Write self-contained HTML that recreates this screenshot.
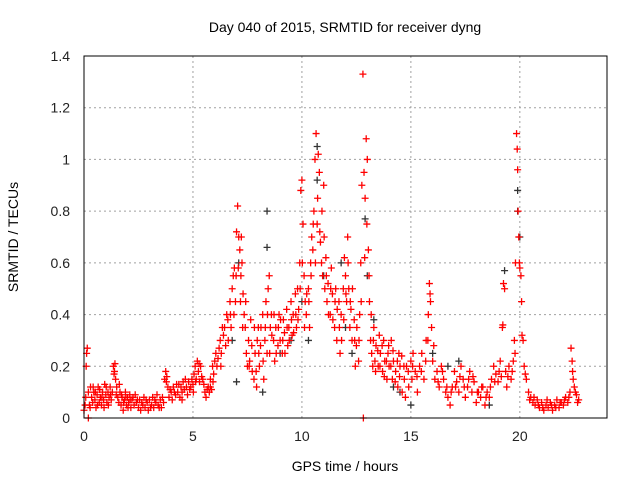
<!DOCTYPE html>
<html><head><meta charset="utf-8"><style>
body{margin:0;background:#fff;}
svg{display:block;font-family:"Liberation Sans",sans-serif;}
</style></head><body>
<svg id="chart" width="640" height="480">
<text x="345" y="32" font-size="14" text-anchor="middle">Day 040 of 2015, SRMTID for receiver dyng</text>
<text x="345" y="471" font-size="14" text-anchor="middle">GPS time / hours</text>
<text x="18" y="237" font-size="14" text-anchor="middle" transform="rotate(-90 18 237)">SRMTID / TECUs</text>
<g id="grid"></g><g id="ticks"></g><g id="marks"></g>
<rect x="84" y="56" width="523" height="362" fill="none" stroke="#000" stroke-width="1"/>
</svg>
<script>
const xTicks=[0,5,10,15,20];
const yTicks=[0,0.2,0.4,0.6,0.8,1,1.2,1.4];
const yTickLabels=["0","0.2","0.4","0.6","0.8","1","1.2","1.4"];
const blackPoints=[[7.1,0.6],[8.4,0.8],[8.4,0.66],[10.7,1.05],[10.7,0.92],[12.9,0.77],[13.0,0.55],[19.3,0.57],[19.9,0.88],[19.9,0.8],[20.0,0.7],[16.0,0.25],[16.7,0.2],[10.0,0.45],[11.0,0.55],[9.5,0.3],[14.5,0.1],[15.0,0.05],[12.3,0.25],[6.8,0.3],[7.0,0.14],[8.2,0.1],[11.8,0.6],[13.3,0.38],[17.2,0.22],[18.6,0.05],[14.2,0.12],[12.0,0.35],[10.3,0.3],[9.0,0.25]];
const redPoints=[
[0.0,0.03],[0.05,0.05],[0.1,0.2],[0.12,0.25],[0.15,0.27],[0.2,0.1],[0.2,0.0],[0.25,0.05],[0.3,0.12],[0.35,0.08],[0.4,0.06],[0.45,0.1],[0.5,0.07],[0.55,0.04],[0.6,0.09],[0.65,0.12],[0.7,0.06],[0.75,0.08],[0.8,0.05],[0.85,0.1],[0.9,0.07],[0.95,0.13],[1.0,0.09],[1.05,0.06],[1.1,0.1],[1.15,0.08],[1.2,0.12],[1.25,0.07],[1.3,0.1],[1.35,0.2],[1.4,0.18],[1.45,0.15],[1.5,0.12],[1.55,0.08],[1.6,0.06],[1.65,0.1],[1.7,0.05],[1.75,0.08],[1.8,0.03],[1.85,0.07],[1.9,0.1],[1.95,0.05],[2.0,0.08],[2.05,0.06],[2.1,0.09],[2.15,0.04],[2.2,0.07],[2.3,0.05],[2.35,0.09],[2.4,0.06],[2.5,0.04],[2.55,0.07],[2.6,0.03],[2.7,0.05],[2.75,0.08],[2.8,0.04],[2.9,0.06],[2.95,0.03],[3.0,0.07],[3.1,0.05],[3.15,0.08],[3.2,0.04],[3.3,0.06],[3.35,0.09],[3.4,0.05],[3.5,0.07],[3.55,0.04],[3.6,0.08],[3.7,0.15],[3.75,0.18],[3.8,0.16],[3.85,0.12],[3.9,0.08],[4.0,0.1],[4.05,0.07],[4.1,0.12],[4.2,0.09],[4.25,0.13],[4.3,0.1],[4.4,0.08],[4.45,0.12],[4.5,0.1],[4.55,0.14],[4.6,0.11],[4.7,0.12],[4.75,0.09],[4.8,0.14],[4.9,0.12],[4.95,0.15],[5.0,0.13],[5.05,0.17],[5.1,0.2],[5.15,0.15],[5.2,0.22],[5.25,0.18],[5.3,0.14],[5.35,0.2],[5.4,0.16],[5.5,0.13],[5.55,0.1],[5.6,0.08],[5.7,0.12],[5.75,0.1],[5.8,0.15],[5.85,0.11],[5.9,0.2],[5.95,0.17],[6.0,0.22],[6.05,0.25],[6.1,0.2],[6.2,0.27],[6.25,0.3],[6.3,0.25],[6.35,0.35],[6.4,0.32],[6.5,0.28],[6.55,0.4],[6.6,0.38],[6.7,0.45],[6.75,0.35],[6.8,0.5],[6.85,0.55],[6.9,0.58],[6.95,0.45],[7.0,0.72],[7.05,0.82],[7.1,0.7],[7.15,0.65],[7.2,0.55],[7.25,0.6],[7.3,0.48],[7.35,0.4],[7.4,0.35],[7.45,0.25],[7.5,0.2],[7.55,0.3],[7.6,0.22],[7.65,0.38],[7.7,0.28],[7.8,0.15],[7.85,0.25],[7.9,0.18],[7.95,0.3],[8.0,0.35],[8.05,0.2],[8.1,0.28],[8.2,0.4],[8.25,0.15],[8.3,0.3],[8.35,0.45],[8.4,0.25],[8.45,0.5],[8.5,0.55],[8.55,0.35],[8.6,0.4],[8.7,0.3],[8.75,0.22],[8.8,0.35],[8.9,0.28],[8.95,0.4],[9.0,0.3],[9.1,0.25],[9.15,0.38],[9.2,0.33],[9.3,0.42],[9.35,0.28],[9.4,0.35],[9.5,0.45],[9.55,0.32],[9.6,0.4],[9.7,0.48],[9.75,0.35],[9.8,0.5],[9.85,0.42],[9.9,0.6],[9.95,0.88],[10.0,0.92],[10.05,0.75],[10.1,0.55],[10.15,0.45],[10.2,0.4],[10.3,0.5],[10.35,0.35],[10.4,0.6],[10.45,0.7],[10.5,0.65],[10.55,0.8],[10.6,1.0],[10.65,1.1],[10.7,0.75],[10.75,1.02],[10.8,0.95],[10.85,0.68],[10.9,0.6],[10.95,0.55],[11.0,0.9],[11.05,0.5],[11.1,0.62],[11.15,0.45],[11.2,0.52],[11.3,0.4],[11.35,0.58],[11.4,0.48],[11.5,0.35],[11.55,0.5],[11.6,0.3],[11.7,0.45],[11.75,0.25],[11.8,0.4],[11.9,0.5],[11.95,0.62],[12.0,0.55],[12.05,0.45],[12.1,0.7],[12.15,0.5],[12.2,0.35],[12.25,0.42],[12.3,0.3],[12.4,0.38],[12.45,0.2],[12.5,0.28],[12.6,0.22],[12.65,0.4],[12.7,0.6],[12.75,0.9],[12.8,1.33],[12.82,0.0],[12.85,0.95],[12.9,0.85],[12.95,1.08],[13.0,1.0],[13.05,0.65],[13.1,0.45],[13.15,0.3],[13.2,0.25],[13.25,0.2],[13.3,0.35],[13.35,0.22],[13.4,0.28],[13.5,0.2],[13.55,0.32],[13.6,0.25],[13.7,0.18],[13.75,0.3],[13.8,0.22],[13.9,0.15],[13.95,0.25],[14.0,0.2],[14.1,0.3],[14.15,0.15],[14.2,0.22],[14.3,0.18],[14.4,0.12],[14.45,0.25],[14.5,0.2],[14.6,0.1],[14.7,0.15],[14.75,0.08],[14.8,0.2],[14.9,0.12],[15.0,0.22],[15.05,0.15],[15.1,0.25],[15.2,0.18],[15.3,0.1],[15.4,0.2],[15.5,0.25],[15.6,0.15],[15.7,0.3],[15.8,0.4],[15.85,0.52],[15.9,0.45],[15.95,0.35],[16.0,0.22],[16.1,0.15],[16.2,0.18],[16.3,0.12],[16.4,0.2],[16.5,0.15],[16.6,0.1],[16.7,0.08],[16.8,0.05],[16.9,0.12],[17.0,0.18],[17.1,0.14],[17.2,0.1],[17.3,0.2],[17.4,0.15],[17.5,0.08],[17.6,0.12],[17.7,0.18],[17.8,0.1],[17.9,0.14],[18.0,0.06],[18.1,0.1],[18.2,0.08],[18.3,0.12],[18.4,0.05],[18.5,0.1],[18.6,0.08],[18.7,0.15],[18.8,0.2],[18.9,0.17],[19.0,0.14],[19.1,0.22],[19.2,0.35],[19.25,0.52],[19.3,0.5],[19.35,0.18],[19.4,0.12],[19.5,0.2],[19.6,0.15],[19.7,0.22],[19.75,0.3],[19.8,0.6],[19.85,1.1],[19.88,1.04],[19.9,0.96],[19.95,0.7],[20.0,0.58],[20.05,0.55],[20.1,0.32],[20.15,0.3],[20.2,0.2],[20.3,0.15],[20.4,0.1],[20.5,0.08],[20.6,0.06],[20.7,0.05],[20.8,0.07],[20.9,0.04],[21.0,0.06],[21.1,0.03],[21.2,0.05],[21.3,0.04],[21.4,0.06],[21.5,0.03],[21.6,0.05],[21.7,0.07],[21.8,0.04],[21.9,0.06],[22.0,0.05],[22.1,0.08],[22.2,0.06],[22.3,0.1],[22.35,0.27],[22.4,0.22],[22.45,0.15],[22.5,0.12],[22.6,0.09],[22.7,0.07]];
const redExtra=[
[0.08,0.08],[0.28,0.04],[0.42,0.12],[0.52,0.1],[0.62,0.05],[0.72,0.11],[0.82,0.08],[0.92,0.04],[1.02,0.12],[1.12,0.05],[1.22,0.09],[1.38,0.17],[1.42,0.21],[1.48,0.09],[1.62,0.13],[1.72,0.09],[1.82,0.06],[1.92,0.08],[2.02,0.04],[2.12,0.07],[2.25,0.08],[2.45,0.07],[2.65,0.06],[2.85,0.07],[3.05,0.04],[3.25,0.07],[3.45,0.04],[3.65,0.06],[3.78,0.14],[3.95,0.11],[4.15,0.1],[4.35,0.13],[4.5,0.07],[4.65,0.15],[4.85,0.11],[5.02,0.1],[5.12,0.14],[5.28,0.21],[5.45,0.15],[5.65,0.11],[5.8,0.12],[5.92,0.14],[6.15,0.23],[6.28,0.2],[6.45,0.35],[6.62,0.3],[6.72,0.4],[6.88,0.4],[6.98,0.55],[7.08,0.58],[7.18,0.45],[7.22,0.7],[7.28,0.35],[7.42,0.45],[7.58,0.2],[7.72,0.18],[7.82,0.35],[7.92,0.12],[8.02,0.25],[8.12,0.35],[8.22,0.22],[8.32,0.35],[8.42,0.4],[8.52,0.25],[8.62,0.32],[8.72,0.4],[8.82,0.25],[8.92,0.35],[9.02,0.38],[9.12,0.3],[9.22,0.25],[9.32,0.35],[9.42,0.3],[9.52,0.38],[9.62,0.33],[9.72,0.4],[9.82,0.38],[9.92,0.5],[10.02,0.6],[10.12,0.35],[10.22,0.48],[10.32,0.45],[10.42,0.55],[10.52,0.75],[10.62,0.6],[10.72,0.85],[10.82,0.72],[10.92,0.8],[11.02,0.7],[11.12,0.55],[11.22,0.4],[11.32,0.5],[11.42,0.38],[11.52,0.45],[11.62,0.42],[11.72,0.35],[11.82,0.3],[11.92,0.38],[12.02,0.48],[12.12,0.6],[12.22,0.45],[12.32,0.5],[12.42,0.3],[12.52,0.35],[12.62,0.3],[12.72,0.45],[12.88,0.62],[12.98,0.75],[13.08,0.55],[13.18,0.4],[13.28,0.3],[13.38,0.18],[13.48,0.26],[13.58,0.2],[13.68,0.28],[13.78,0.16],[13.88,0.22],[13.98,0.28],[14.08,0.2],[14.18,0.26],[14.28,0.14],[14.38,0.22],[14.48,0.16],[14.58,0.24],[14.68,0.2],[14.88,0.18],[15.08,0.2],[15.28,0.16],[15.48,0.18],[15.68,0.22],[15.78,0.3],[15.88,0.48],[16.05,0.28],[16.25,0.14],[16.45,0.18],[16.65,0.12],[16.85,0.1],[17.05,0.12],[17.25,0.16],[17.45,0.12],[17.65,0.15],[17.85,0.16],[18.05,0.1],[18.25,0.12],[18.45,0.08],[18.65,0.12],[18.85,0.14],[19.05,0.18],[19.15,0.16],[19.22,0.36],[19.45,0.16],[19.65,0.18],[19.78,0.25],[19.92,0.8],[19.98,0.6],[20.08,0.45],[20.25,0.17],[20.45,0.07],[20.65,0.08],[20.85,0.05],[21.05,0.04],[21.25,0.07],[21.45,0.05],[21.65,0.04],[21.85,0.06],[22.05,0.07],[22.25,0.08],[22.42,0.18],[22.55,0.1],[22.65,0.06]];
const X0=84,X1=607,Y0=418,Y1=56,XMAX=24,YMAX=1.4;
function xs(t){return X0+(X1-X0)*t/XMAX;}
function ys(v){return Y0-(Y0-Y1)*v/YMAX;}
const NS="http://www.w3.org/2000/svg";
const grid=document.getElementById('grid'),ticks=document.getElementById('ticks'),marks=document.getElementById('marks');
function mk(tag,attrs,parent){const e=document.createElementNS(NS,tag);for(const k in attrs)e.setAttribute(k,attrs[k]);parent.appendChild(e);return e;}
xTicks.forEach(t=>{
  const x=xs(t);
  if(t>0){const g=mk('line',{x1:x,x2:x,y1:Y1,y2:Y0,stroke:'#a0a0a0','stroke-dasharray':'2,3'},grid);
  
  }
  const l=mk('text',{x:x,y:Y0+23,'font-size':14,'text-anchor':'middle',fill:'#222'},ticks);
  l.textContent=t;
  
  
});
yTicks.forEach((v,i)=>{
  const y=ys(v);
  if(v>0){const g=mk('line',{x1:X0,x2:X1,y1:y,y2:y,stroke:'#a0a0a0','stroke-dasharray':'2,3'},grid);
  
  }
  const l=mk('text',{x:X0-14,y:y+5,'font-size':14,'text-anchor':'end',fill:'#222'},ticks);
  l.textContent=yTickLabels[i];
  
  
});
function plus(p,color,name){
  const x=xs(p[0]),y=ys(p[1]);
  const e=mk('path',{d:`M${x-3.5},${y}H${x+3.5}M${x},${y-3.5}V${y+3.5}`,stroke:color,'stroke-width':1.3,fill:'none'},marks);
  
  
}
blackPoints.forEach(p=>plus(p,'#333','black-point'));
redPoints.forEach(p=>plus(p,'#f00','red-point'));
redExtra.forEach(p=>plus(p,'#f00','red-point'));
</script>
</body></html>
